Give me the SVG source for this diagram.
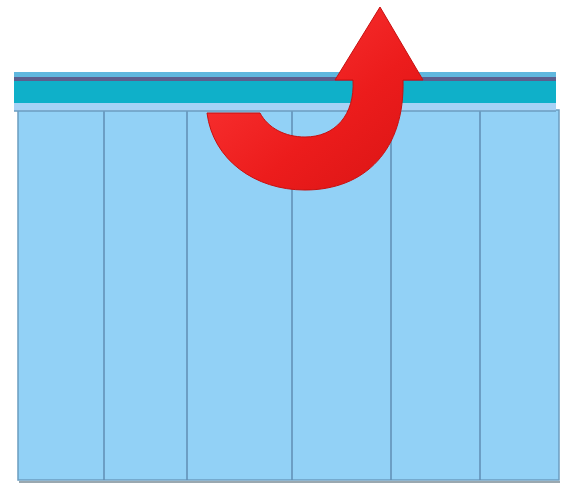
<svg xmlns="http://www.w3.org/2000/svg" width="571" height="483" viewBox="0 0 571 483">
<defs>
<style>
.panel{fill:#92d1f6;stroke:#6b9dc0;stroke-width:1.5}
.div{stroke:#5f8db3;stroke-width:1.5}
</style>
<linearGradient id="red" x1="0" y1="0" x2="1" y2="1">
<stop offset="0" stop-color="#ff3b3b"/>
<stop offset="0.6" stop-color="#ec1c1c"/>
<stop offset="1" stop-color="#d81414"/>
</linearGradient>
</defs>
<rect width="571" height="483" fill="#ffffff"/>
<g id="panels">
<rect x="19" y="481" width="541" height="2" fill="#9aa8b0"/>
<rect class="panel" x="18" y="110" width="541" height="370"/>
<line class="div" x1="104" y1="110" x2="104" y2="480"/>
<line class="div" x1="187" y1="110" x2="187" y2="480"/>
<line class="div" x1="292" y1="110" x2="292" y2="480"/>
<line class="div" x1="391" y1="110" x2="391" y2="480"/>
<line class="div" x1="480" y1="110" x2="480" y2="480"/>
</g>
<g id="bar">
<rect x="14" y="72" width="542" height="6" fill="#5fb7de"/>
<rect x="14" y="77" width="542" height="4" fill="#5b5f8e"/>
<rect x="14" y="81" width="542" height="22" fill="#0fb0c9"/>
<rect x="14" y="103" width="542" height="8" fill="#a7d2f6"/>
<line x1="14" y1="111" x2="556" y2="111" stroke="#6b9dc0" stroke-width="1.5"/>
</g>
<g id="arrow">
<path d="M207,113 C213,160 255,190 305,190 C365,190 405,150 403,80 L423,80 L380,7 L335,80 L353,80 C355,115 335,137 305,137 C285,137 268,128 260,113 Z" fill="url(#red)" stroke="#c81010" stroke-width="1"/>
</g>
</svg>
